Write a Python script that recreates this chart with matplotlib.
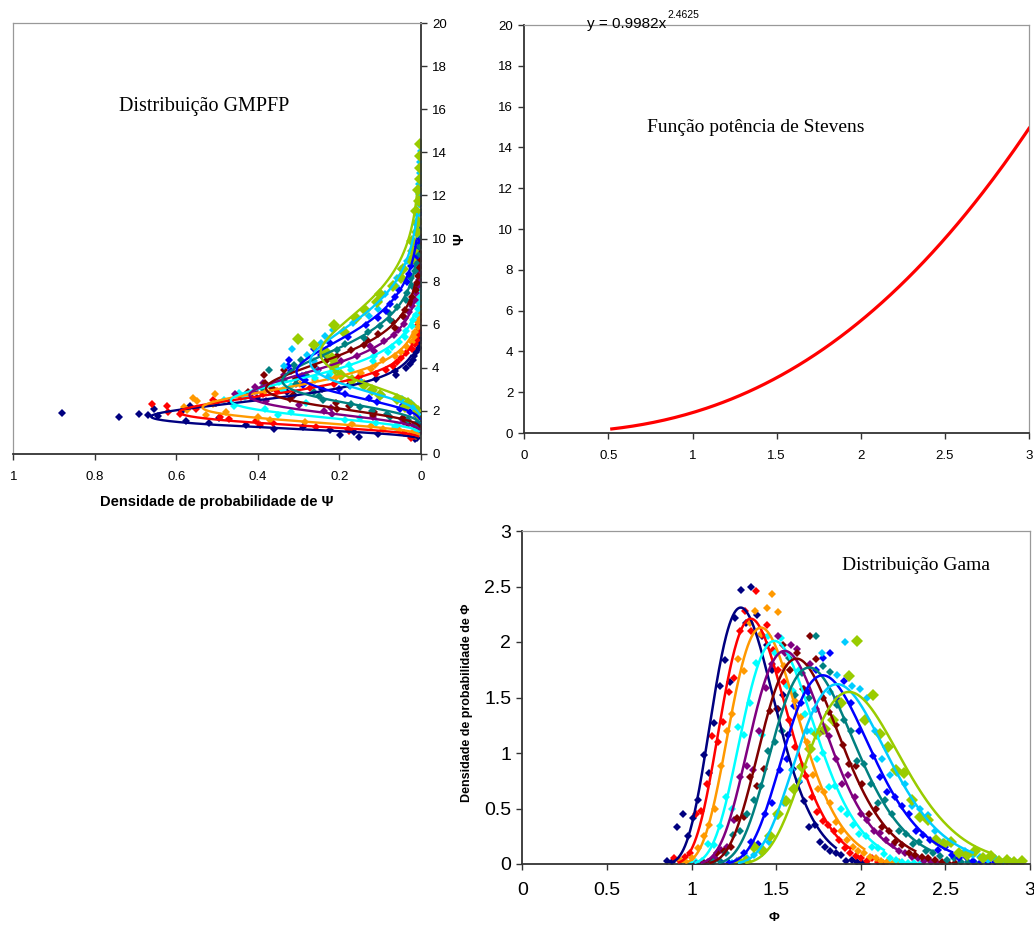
import math
import numpy as np
import matplotlib
matplotlib.use("Agg")
import matplotlib.pyplot as plt
from matplotlib.ticker import FuncFormatter, MultipleLocator

# ---------------------------------------------------------------- data
# Stevens power function  Psi = a * Phi ** b
stevens_a = 0.9982
stevens_b = 2.4625
stevens_phi_range = [0.52, 3.0]

# Gamma fits of Phi: mode, peak density and full width at half maximum per series
series_colors = ["#000080", "#FF0000", "#FF9900", "#00FFFF", "#800080",
                 "#800000", "#008080", "#0000FF", "#00CCFF", "#99CC00"]
phi_mode = [1.29, 1.35, 1.41, 1.49, 1.55, 1.62, 1.695, 1.775, 1.86, 1.93]
phi_peak = [2.31, 2.21, 2.13, 2.01, 1.92, 1.85, 1.77, 1.70, 1.62, 1.55]
phi_fwhm = [0.443, 0.463, 0.481, 0.509, 0.533, 0.553, 0.578, 0.602, 0.632, 0.661]
gamma_shape = 10.0
# fitted range, in scale units around the mode
fit_lo, fit_hi = -6.5, 9.0

# Observed densities of Phi, one value per bin (half-scale steps, from 7 scales below the mode)
obs_navy = [0.03, 0.02, 0.33, 0.45, 0.25, 0.41, 0.58, 0.98, 0.82, 1.27, 1.60, 1.84, 1.64, 2.22, 2.47, 2.17,
            2.50, 2.24, 2.05, 1.97, 1.75, 1.40, 1.52, 1.16, 0.86, 0.74, 0.57, 0.33, 0.35, 0.20, 0.15, 0.12,
            0.10, 0.08, 0.03, 0.04, 0.02, 0.01, 0.00]
obs_red = [0.05, 0.04, 0.06, 0.10, 0.45, 0.48, 0.72, 1.15, 1.10, 1.28, 1.55, 1.68, 2.10, 2.28, 2.10, 2.46,
           2.06, 2.15, 1.93, 1.75, 1.64, 1.30, 1.05, 0.88, 0.79, 0.60, 0.47, 0.39, 0.35, 0.30, 0.22, 0.14,
           0.10, 0.07, 0.05, 0.03, 0.05, 0.02, 0.01]
obs_orange = [0.03, 0.02, 0.05, 0.14, 0.25, 0.35, 0.50, 0.88, 1.20, 1.35, 1.85, 1.74, 2.17, 2.28, 2.07, 2.31,
              2.43, 2.27, 1.78, 1.75, 1.47, 1.32, 1.10, 0.80, 0.68, 0.65, 0.55, 0.38, 0.30, 0.22, 0.15, 0.12,
              0.10, 0.06, 0.05, 0.03, 0.02, 0.01, 0.02]
obs_cyan = [0.01, 0.02, 0.03, 0.18, 0.17, 0.34, 0.60, 0.50, 1.23, 1.16, 1.45, 1.81, 1.16, 2.05, 1.90, 2.04,
            1.60, 1.56, 1.75, 1.35, 1.20, 0.95, 1.00, 0.69, 0.70, 0.50, 0.45, 0.35, 0.27, 0.25, 0.15, 0.14,
            0.09, 0.05, 0.04, 0.02, 0.01, 0.01, 0.00]
obs_purple = [0.00, 0.00, 0.02, 0.05, 0.13, 0.15, 0.40, 0.78, 0.88, 0.85, 1.20, 1.59, 1.80, 2.05, 1.90, 1.97,
              1.94, 1.58, 1.80, 1.40, 1.20, 1.15, 0.95, 0.72, 0.80, 0.60, 0.45, 0.40, 0.30, 0.28, 0.22, 0.17,
              0.12, 0.10, 0.06, 0.05, 0.03, 0.02, 0.01]
obs_maroon = [0.01, 0.03, 0.10, 0.12, 0.15, 0.41, 0.42, 0.78, 0.70, 0.86, 1.38, 1.40, 1.97, 1.75, 1.90, 1.58,
              2.05, 1.85, 1.50, 1.37, 1.25, 1.07, 0.90, 0.88, 0.72, 0.45, 0.50, 0.33, 0.30, 0.20, 0.17, 0.10,
              0.08, 0.06, 0.05, 0.04, 0.02, 0.01, 0.01]
obs_teal = [0.02, 0.03, 0.10, 0.26, 0.30, 0.45, 0.58, 0.70, 1.02, 1.10, 1.20, 1.86, 1.52, 1.72, 1.50, 2.05,
            1.78, 1.73, 1.43, 1.30, 1.20, 0.93, 0.90, 0.72, 0.55, 0.58, 0.45, 0.30, 0.27, 0.18, 0.20, 0.12,
            0.10, 0.07, 0.04, 0.05, 0.02, 0.02, 0.01]
obs_blue = [0.00, 0.01, 0.03, 0.10, 0.20, 0.18, 0.45, 0.55, 0.85, 0.95, 1.42, 1.45, 1.55, 1.75, 1.86, 1.90,
            1.49, 1.65, 1.45, 1.20, 1.30, 0.97, 0.78, 0.65, 0.60, 0.52, 0.45, 0.30, 0.26, 0.22, 0.13, 0.15,
            0.08, 0.05, 0.06, 0.03, 0.02, 0.01, 0.02]
obs_sky = [0.01, 0.02, 0.05, 0.08, 0.10, 0.20, 0.43, 0.55, 0.85, 0.75, 1.20, 1.40, 1.90, 1.55, 1.70, 2.00,
           1.60, 1.58, 1.50, 1.20, 0.95, 0.80, 0.82, 0.72, 0.52, 0.50, 0.44, 0.30, 0.20, 0.19, 0.10, 0.12,
           0.08, 0.06, 0.04, 0.05, 0.02, 0.03, 0.01]
obs_green = [0.02, 0.03, 0.15, 0.13, 0.25, 0.45, 0.57, 0.68, 0.87, 1.04, 1.17, 1.22, 1.30, 1.45, 1.69, 2.01,
             1.30, 1.52, 1.17, 1.05, 0.85, 0.82, 0.58, 0.42, 0.40, 0.22, 0.18, 0.20, 0.10, 0.08, 0.12, 0.05,
             0.07, 0.03, 0.04, 0.02, 0.03, 0.01, 0.02]
observed = [obs_navy, obs_red, obs_orange, obs_cyan, obs_purple,
            obs_maroon, obs_teal, obs_blue, obs_sky, obs_green]

# Isolated histogram points of Psi (series index, density, Psi)
psi_extra_series = [0, 0, 0, 1]
psi_extra_density = [0.88, 0.74, 0.67, 0.66]
psi_extra_value = [1.90, 1.70, 1.80, 2.30]

# ---------------------------------------------------------------- helpers
W, H = 1034, 925


def fx(px):
    return px / W


def fy(py):
    return 1 - py / H


def log_gamma_shape(z, k):
    return (k - 1) * np.log(np.clip(z, 1e-12, None)) - z


def half_max_width(k):
    # width (in scale units) of the gamma shape at half its maximum
    z = np.linspace(1e-6, 12 * k, 200001)
    lg = log_gamma_shape(z, k) - log_gamma_shape(k - 1, k)
    inside = z[lg >= -math.log(2)]
    return inside[-1] - inside[0]


def fitted_curve(x, mode, peak, theta, k):
    z = (x - mode) / theta + (k - 1)
    lg = log_gamma_shape(z, k) - log_gamma_shape(k - 1, k)
    return np.where(z > 0, peak * np.exp(lg), 0.0)


def to_psi(phi, dens):
    psi = stevens_a * phi ** stevens_b
    jac = stevens_a * stevens_b * phi ** (stevens_b - 1)
    return psi, dens / jac


plt.rcParams["font.family"] = ["Liberation Sans", "DejaVu Sans"]
SERIF = ["Liberation Serif", "DejaVu Serif"]
DARK = "#333333"
GREY = "#999999"
fig = plt.figure(figsize=(W / 100, H / 100), dpi=100)


def style_axes(ax, axis_sides, frame_sides, size):
    for s in axis_sides:
        ax.spines[s].set_color(DARK)
        ax.spines[s].set_linewidth(1.3)
    for s in frame_sides:
        ax.spines[s].set_color(GREY)
        ax.spines[s].set_linewidth(0.9)
    ax.tick_params(direction="out", length=4, width=1, color=DARK, labelsize=size, pad=4)
    fmt = FuncFormatter(lambda v, p: "%g" % round(v, 4))
    ax.xaxis.set_major_formatter(fmt)
    ax.yaxis.set_major_formatter(fmt)


# ---------------------------------------------------------------- panels
ax_psi = fig.add_axes([fx(13.3), fy(454), (421 - 13.3) / W, (454 - 23) / H])
ax_pow = fig.add_axes([fx(524.3), fy(433), (1029 - 524.3) / W, (433 - 25) / H])
ax_phi = fig.add_axes([fx(522.4), fy(864), (1030 - 522.4) / W, (864 - 531) / H])

hw = half_max_width(gamma_shape)
for i, col in enumerate(series_colors):
    theta = phi_fwhm[i] / hw
    dens = np.array(observed[i])
    bins = phi_mode[i] - 7 * theta + 0.5 * theta * np.arange(len(dens))
    keep = bins <= 3.0
    bins, dens = bins[keep], dens[keep]
    ms = 6.5 if i == len(series_colors) - 1 else 4.5

    grid = np.linspace(phi_mode[i] + fit_lo * theta,
                       min(phi_mode[i] + fit_hi * theta, 3.0), 300)
    curve = fitted_curve(grid, phi_mode[i], phi_peak[i], theta, gamma_shape)

    # Gamma panel
    ax_phi.plot(bins, dens, ls="none", marker="D", ms=ms, mew=0, color=col, zorder=2)
    ax_phi.plot(grid, curve, color=col, lw=1.8, zorder=3)

    # GMPFP panel: same samples through the power function
    psi_b, dpsi_b = to_psi(bins, dens)
    psi_g, dpsi_g = to_psi(grid, curve)
    ax_psi.plot(dpsi_b, psi_b, ls="none", marker="D", ms=ms, mew=0, color=col, zorder=2)
    ax_psi.plot(dpsi_g, psi_g, color=col, lw=1.7, zorder=3)

for s, d, p in zip(psi_extra_series, psi_extra_density, psi_extra_value):
    ax_psi.plot([d], [p], ls="none", marker="D", ms=4.5, mew=0, color=series_colors[s], zorder=2)

# GMPFP panel
ax_psi.set_xlim(1, 0)
ax_psi.set_ylim(0, 20)
ax_psi.xaxis.set_major_locator(MultipleLocator(0.2))
ax_psi.yaxis.set_major_locator(MultipleLocator(2))
ax_psi.yaxis.tick_right()
style_axes(ax_psi, ["right", "bottom"], ["left", "top"], 9.5)
ax_psi.tick_params(axis="x", pad=8)
fig.text(fx(204), fy(106), "Distribuição GMPFP", family=SERIF, fontsize=14.5,
         ha="center", va="center")
fig.text(fx(217), fy(502), "Densidade de probabilidade de Ψ", fontsize=10.5,
         fontweight="bold", ha="center", va="center")
fig.text(fx(459), fy(239), "Ψ", fontsize=10.5, fontweight="bold", rotation=90,
         ha="center", va="center")

# Power function panel
xs = np.linspace(stevens_phi_range[0], stevens_phi_range[1], 200)
ax_pow.plot(xs, stevens_a * xs ** stevens_b, color="#FF0000", lw=2.3, zorder=3)
ax_pow.set_xlim(0, 3)
ax_pow.set_ylim(0, 20)
ax_pow.xaxis.set_major_locator(MultipleLocator(0.5))
ax_pow.yaxis.set_major_locator(MultipleLocator(2))
style_axes(ax_pow, ["left", "bottom"], ["right", "top"], 9.5)
ax_pow.tick_params(axis="x", pad=8)
fig.text(fx(587), fy(28), "y = %.4fx" % stevens_a, fontsize=11, ha="left", va="baseline")
fig.text(fx(667), fy(18), "%.4f" % stevens_b, fontsize=7.5, ha="left", va="baseline")
fig.text(fx(756), fy(127), "Função potência de Stevens", family=SERIF, fontsize=14,
         ha="center", va="center")

# Gamma panel
ax_phi.set_xlim(0, 3)
ax_phi.set_ylim(0, 3)
ax_phi.xaxis.set_major_locator(MultipleLocator(0.5))
ax_phi.yaxis.set_major_locator(MultipleLocator(0.5))
style_axes(ax_phi, ["left", "bottom"], ["right", "top"], 14)
ax_phi.tick_params(axis="x", pad=9)
fig.text(fx(916), fy(565), "Distribuição Gama", family=SERIF, fontsize=14,
         ha="center", va="center")
fig.text(fx(467), fy(703), "Densidade de probabilidade de Φ", fontsize=9,
         fontweight="bold", rotation=90, ha="center", va="center")
fig.text(fx(774), fy(918), "Φ", fontsize=9.5, fontweight="bold", ha="center", va="center")

fig.savefig("out.png", dpi=100)
